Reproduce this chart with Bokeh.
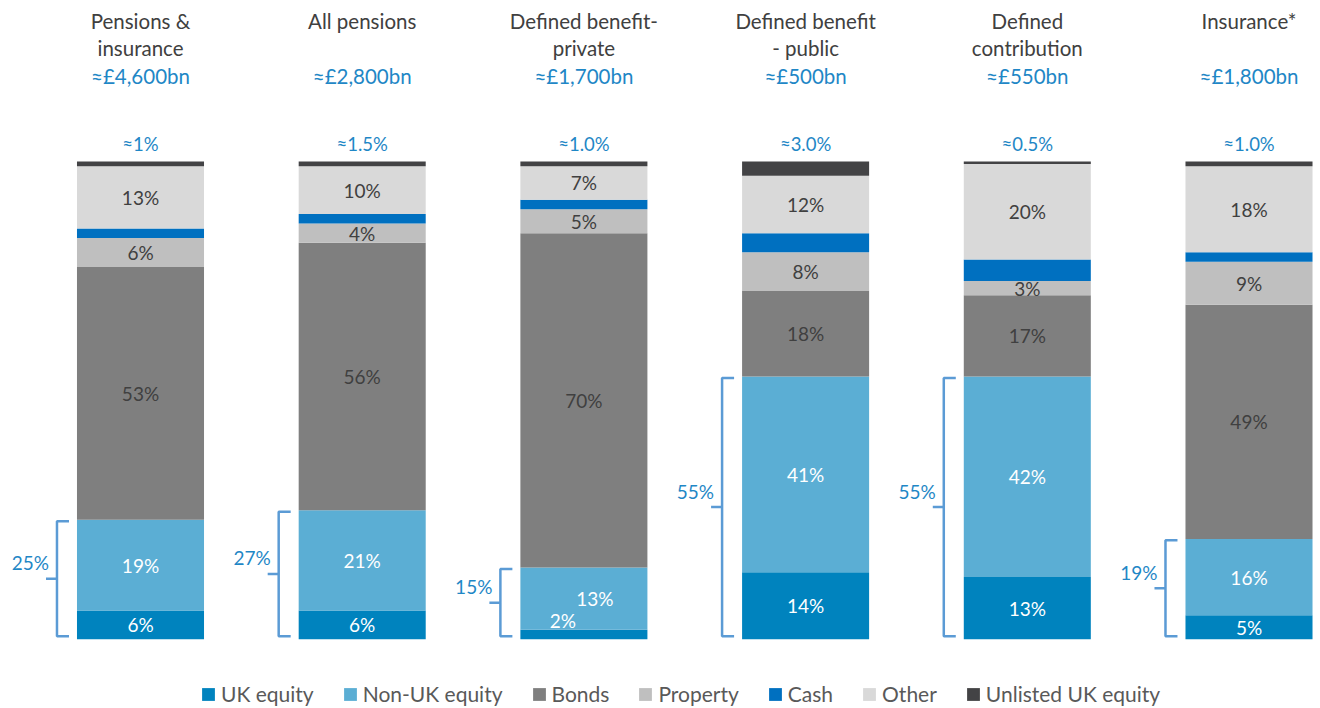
from bokeh.plotting import figure
from bokeh.models import Range1d, Legend, LegendItem, ColumnDataSource
from bokeh.core.properties import value
from bokeh.embed import file_html
from bokeh.resources import INLINE

# ---------------- data ----------------
titles = ["Pensions &\ninsurance", "All pensions", "Defined benefit-\nprivate",
          "Defined benefit\n- public", "Defined\ncontribution", "Insurance*"]
sizes = ["≈£4,600bn", "≈£2,800bn", "≈£1,700bn", "≈£500bn", "≈£550bn", "≈£1,800bn"]
series = ["UK equity", "Non-UK equity", "Bonds", "Property", "Cash", "Other", "Unlisted UK equity"]
uk_equity = [6, 6, 2, 14, 13, 5]
non_uk_equity = [19, 21, 13, 41, 42, 16]
bonds = [53, 56, 70, 18, 17, 49]
property_ = [6, 4, 5, 8, 3, 9]
cash = [2, 2, 2, 4, 4.5, 2]
other = [13, 10, 7, 12, 20, 18]
unlisted = [1, 1, 1, 3, 0.5, 1]
unlisted_labels = ["≈1%", "≈1.5%", "≈1.0%", "≈3.0%", "≈0.5%", "≈1.0%"]
equity_totals = ["25%", "27%", "15%", "55%", "55%", "19%"]

# ---------------- style ----------------
colors = ["#0083BE", "#5BAED4", "#7F7F7F", "#BFBFBF", "#0070C0", "#D9D9D9", "#434345"]
label_colors = ["white", "white", "#404040", "#404040", None, "#404040", None]
BLUE_TEXT = "#1F87C6"
BRACKET = "#5B9BD5"
FONT = "Lato"
PX = 1 / 221.7          # one screen pixel in x data units
PY = 100 / 477.7        # one screen pixel in y data units
BAR_W = 0.573

values = [uk_equity, non_uk_equity, bonds, property_, cash, other, unlisted]
n = len(titles)
xs = list(range(n))
keys = ["s%d" % k for k in range(len(series))]
src = ColumnDataSource(dict(x=xs, **{k: v for k, v in zip(keys, values)}))

p = figure(width=1320, height=708, x_range=Range1d(-140 * PX, 1180 * PX),
           y_range=Range1d(-69.3 * PY, 638.7 * PY), x_axis_type=None, y_axis_type=None,
           toolbar_location=None, output_backend="svg", min_border=0,
           outline_line_color=None)
p.grid.visible = False

rends = p.vbar_stack(keys, x="x", width=BAR_W, source=src, color=colors, line_color=None)

# segment labels
lx, ly, lt, lc, lxo, lyo = [], [], [], [], [], []
nudges = {(2, 0): (-21, -14), (2, 1): (11, 0)}
for i in xs:
    base = 0
    for k, vals in enumerate(values):
        v = vals[i]
        if label_colors[k] is not None:
            lx.append(i)
            ly.append(base + v / 2)
            lt.append("%g%%" % v)
            lc.append(label_colors[k])
            dx, dy = nudges.get((i, k), (0, 0))
            lxo.append(dx)
            lyo.append(dy)
        base += v
p.text(x=lx, y=ly, text=lt, text_color=lc, x_offset=lxo, y_offset=lyo,
       text_align="center", text_baseline="middle", text_font=value(FONT),
       text_font_size="19px")

# top labels (unlisted)
tops = [sum(v[i] for v in values) for i in xs]
p.text(x=xs, y=[t + 18 * PY for t in tops], text=unlisted_labels, text_color=BLUE_TEXT,
       text_align="center", text_baseline="middle", text_font=value(FONT),
       text_font_size="18.5px")

# titles
line1 = [t.split("\n")[0] for t in titles]
line2 = [t.split("\n")[1] if "\n" in t else "" for t in titles]
p.text(x=xs, y=[(638.7 - 20) * PY] * n, text=line1, text_color="#404040",
       text_align="center", text_baseline="middle", text_font=value(FONT), text_font_size="20.5px")
p.text(x=xs, y=[(638.7 - 47) * PY] * n, text=line2, text_color="#404040",
       text_align="center", text_baseline="middle", text_font=value(FONT), text_font_size="20.5px")
p.text(x=xs, y=[(638.7 - 75) * PY] * n, text=sizes, text_color=BLUE_TEXT,
       text_align="center", text_baseline="middle", text_font=value(FONT), text_font_size="20.5px")

# equity brackets
bx, by, blx, bly = [], [], [], []
for i in xs:
    L = i - BAR_W / 2
    top = uk_equity[i] + non_uk_equity[i] - 0.3
    bot = 0.6
    mid = (top + bot) / 2
    xv = L - 20 * PX
    bx.append([L - 8 * PX, xv, xv, L - 31 * PX, xv, xv, L - 8 * PX])
    by.append([top, top, mid, mid, mid, bot, bot])
    blx.append(L - 28 * PX)
    bly.append(mid)
p.multi_line(xs=bx, ys=by, line_color=BRACKET, line_width=2.5)
p.text(x=blx, y=bly, text=equity_totals, text_color=BLUE_TEXT, y_offset=-16,
       text_align="right", text_baseline="middle", text_font=value(FONT), text_font_size="19px")

# legend
legend = Legend(items=[LegendItem(label=s, renderers=[r]) for s, r in zip(series, rends)],
                orientation="horizontal", location=(200, 2), padding=0, margin=0,
                spacing=28, label_standoff=5, glyph_width=16, glyph_height=16,
                label_text_font=FONT, label_text_font_size="21px", label_text_color="#595959",
                border_line_color=None, background_fill_alpha=0)
p.add_layout(legend)

open("out.html", "w").write(file_html(p, INLINE))
